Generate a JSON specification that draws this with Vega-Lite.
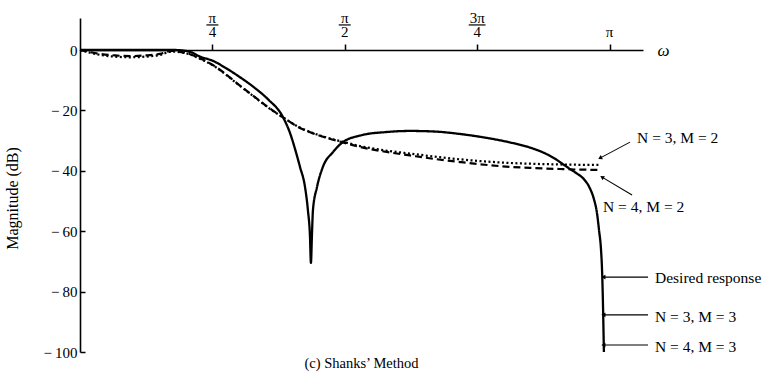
{
  "$schema": "https://vega.github.io/schema/vega-lite/v6.json",
  "width": 563,
  "height": 334,
  "autosize": "none",
  "padding": {"left": 80, "top": 18, "right": 130, "bottom": 25},
  "background": "white",
  "config": {"view": {"stroke": null}, "font": "Liberation Serif"},
  "title": {"text": "(c) Shanks’ Method", "orient": "bottom", "anchor": "middle", "fontSize": 14.5, "fontWeight": "normal", "font": "Liberation Serif", "color": "black", "offset": 4, "baseline": "middle"},
  "datasets": {
    "curves": [
      {"s": "Desired response", "w": 0, "db": 0},
      {"s": "Desired response", "w": 0.237, "db": 0},
      {"s": "Desired response", "w": 0.415, "db": 0},
      {"s": "Desired response", "w": 0.564, "db": 0},
      {"s": "Desired response", "w": 0.653, "db": -0.6},
      {"s": "Desired response", "w": 0.712, "db": -2.2},
      {"s": "Desired response", "w": 0.789, "db": -3.6},
      {"s": "Desired response", "w": 0.86, "db": -5.8},
      {"s": "Desired response", "w": 0.949, "db": -9.0},
      {"s": "Desired response", "w": 1.038, "db": -12.6},
      {"s": "Desired response", "w": 1.115, "db": -16.3},
      {"s": "Desired response", "w": 1.204, "db": -22.2},
      {"s": "Desired response", "w": 1.246, "db": -27.5},
      {"s": "Desired response", "w": 1.281, "db": -33.8},
      {"s": "Desired response", "w": 1.305, "db": -38.7},
      {"s": "Desired response", "w": 1.335, "db": -45.4},
      {"s": "Desired response", "w": 1.352, "db": -53.0},
      {"s": "Desired response", "w": 1.364, "db": -61.3},
      {"s": "Desired response", "w": 1.37, "db": -70.5},
      {"s": "Desired response", "w": 1.376, "db": -61.3},
      {"s": "Desired response", "w": 1.382, "db": -53.0},
      {"s": "Desired response", "w": 1.406, "db": -45.4},
      {"s": "Desired response", "w": 1.441, "db": -38.7},
      {"s": "Desired response", "w": 1.501, "db": -33.8},
      {"s": "Desired response", "w": 1.56, "db": -30.5},
      {"s": "Desired response", "w": 1.679, "db": -28.1},
      {"s": "Desired response", "w": 1.809, "db": -27.2},
      {"s": "Desired response", "w": 1.958, "db": -26.8},
      {"s": "Desired response", "w": 2.106, "db": -27.0},
      {"s": "Desired response", "w": 2.254, "db": -27.8},
      {"s": "Desired response", "w": 2.402, "db": -29.0},
      {"s": "Desired response", "w": 2.551, "db": -30.6},
      {"s": "Desired response", "w": 2.669, "db": -32.3},
      {"s": "Desired response", "w": 2.758, "db": -34.2},
      {"s": "Desired response", "w": 2.818, "db": -36.0},
      {"s": "Desired response", "w": 2.865, "db": -37.8},
      {"s": "Desired response", "w": 2.907, "db": -39.4},
      {"s": "Desired response", "w": 2.948, "db": -40.9},
      {"s": "Desired response", "w": 2.99, "db": -42.8},
      {"s": "Desired response", "w": 3.025, "db": -45.8},
      {"s": "Desired response", "w": 3.049, "db": -49.4},
      {"s": "Desired response", "w": 3.067, "db": -54.0},
      {"s": "Desired response", "w": 3.079, "db": -59.6},
      {"s": "Desired response", "w": 3.091, "db": -66.2},
      {"s": "Desired response", "w": 3.097, "db": -72.8},
      {"s": "Desired response", "w": 3.102, "db": -82.8},
      {"s": "Desired response", "w": 3.105, "db": -91.0},
      {"s": "Desired response", "w": 3.108, "db": -100.0},
      {"s": "N = 4, M = 2", "w": 0, "db": 0},
      {"s": "N = 4, M = 2", "w": 0.059, "db": -0.7},
      {"s": "N = 4, M = 2", "w": 0.119, "db": -1.3},
      {"s": "N = 4, M = 2", "w": 0.208, "db": -1.8},
      {"s": "N = 4, M = 2", "w": 0.297, "db": -2.0},
      {"s": "N = 4, M = 2", "w": 0.386, "db": -1.8},
      {"s": "N = 4, M = 2", "w": 0.475, "db": -1.3},
      {"s": "N = 4, M = 2", "w": 0.546, "db": -0.3},
      {"s": "N = 4, M = 2", "w": 0.593, "db": -0.6},
      {"s": "N = 4, M = 2", "w": 0.653, "db": -1.4},
      {"s": "N = 4, M = 2", "w": 0.712, "db": -2.8},
      {"s": "N = 4, M = 2", "w": 0.789, "db": -5.0},
      {"s": "N = 4, M = 2", "w": 0.86, "db": -7.8},
      {"s": "N = 4, M = 2", "w": 0.949, "db": -11.8},
      {"s": "N = 4, M = 2", "w": 1.038, "db": -15.6},
      {"s": "N = 4, M = 2", "w": 1.115, "db": -18.9},
      {"s": "N = 4, M = 2", "w": 1.204, "db": -22.3},
      {"s": "N = 4, M = 2", "w": 1.305, "db": -25.8},
      {"s": "N = 4, M = 2", "w": 1.382, "db": -27.6},
      {"s": "N = 4, M = 2", "w": 1.471, "db": -29.2},
      {"s": "N = 4, M = 2", "w": 1.56, "db": -30.6},
      {"s": "N = 4, M = 2", "w": 1.661, "db": -32.1},
      {"s": "N = 4, M = 2", "w": 1.78, "db": -33.4},
      {"s": "N = 4, M = 2", "w": 1.958, "db": -34.9},
      {"s": "N = 4, M = 2", "w": 2.106, "db": -36.1},
      {"s": "N = 4, M = 2", "w": 2.254, "db": -37.1},
      {"s": "N = 4, M = 2", "w": 2.402, "db": -38.0},
      {"s": "N = 4, M = 2", "w": 2.551, "db": -38.7},
      {"s": "N = 4, M = 2", "w": 2.699, "db": -39.1},
      {"s": "N = 4, M = 2", "w": 2.847, "db": -39.4},
      {"s": "N = 4, M = 2", "w": 2.966, "db": -39.6},
      {"s": "N = 4, M = 2", "w": 3.085, "db": -39.7},
      {"s": "N = 3, M = 2", "w": 0, "db": 0},
      {"s": "N = 3, M = 2", "w": 0.059, "db": -0.9},
      {"s": "N = 3, M = 2", "w": 0.119, "db": -1.6},
      {"s": "N = 3, M = 2", "w": 0.208, "db": -2.2},
      {"s": "N = 3, M = 2", "w": 0.297, "db": -2.4},
      {"s": "N = 3, M = 2", "w": 0.386, "db": -2.2},
      {"s": "N = 3, M = 2", "w": 0.475, "db": -1.6},
      {"s": "N = 3, M = 2", "w": 0.546, "db": -0.5},
      {"s": "N = 3, M = 2", "w": 0.593, "db": -0.7},
      {"s": "N = 3, M = 2", "w": 0.653, "db": -1.5},
      {"s": "N = 3, M = 2", "w": 0.712, "db": -2.9},
      {"s": "N = 3, M = 2", "w": 0.789, "db": -5.1},
      {"s": "N = 3, M = 2", "w": 0.86, "db": -7.9},
      {"s": "N = 3, M = 2", "w": 0.949, "db": -11.9},
      {"s": "N = 3, M = 2", "w": 1.038, "db": -15.7},
      {"s": "N = 3, M = 2", "w": 1.115, "db": -19.0},
      {"s": "N = 3, M = 2", "w": 1.204, "db": -22.3},
      {"s": "N = 3, M = 2", "w": 1.305, "db": -25.7},
      {"s": "N = 3, M = 2", "w": 1.382, "db": -27.5},
      {"s": "N = 3, M = 2", "w": 1.471, "db": -29.1},
      {"s": "N = 3, M = 2", "w": 1.56, "db": -30.4},
      {"s": "N = 3, M = 2", "w": 1.661, "db": -31.8},
      {"s": "N = 3, M = 2", "w": 1.78, "db": -33.0},
      {"s": "N = 3, M = 2", "w": 1.958, "db": -34.3},
      {"s": "N = 3, M = 2", "w": 2.106, "db": -35.3},
      {"s": "N = 3, M = 2", "w": 2.254, "db": -36.2},
      {"s": "N = 3, M = 2", "w": 2.402, "db": -36.9},
      {"s": "N = 3, M = 2", "w": 2.551, "db": -37.4},
      {"s": "N = 3, M = 2", "w": 2.699, "db": -37.7},
      {"s": "N = 3, M = 2", "w": 2.847, "db": -37.9},
      {"s": "N = 3, M = 2", "w": 2.966, "db": -38.0},
      {"s": "N = 3, M = 2", "w": 3.085, "db": -38.0}
    ],
    "ticklabels": [
      {"w": 0.7854, "db": 10.6, "t": "π"},
      {"w": 0.7854, "db": 5.8, "t": "4"},
      {"w": 1.5708, "db": 10.6, "t": "π"},
      {"w": 1.5708, "db": 5.8, "t": "2"},
      {"w": 2.3562, "db": 10.6, "t": "3π"},
      {"w": 2.3562, "db": 5.8, "t": "4"},
      {"w": 3.1416, "db": 5.8, "t": "π"}
    ],
    "bars": [
      {"w": 0.75, "w2": 0.821, "db": 8.3},
      {"w": 1.535, "w2": 1.606, "db": 8.3},
      {"w": 2.306, "w2": 2.406, "db": 8.3}
    ],
    "notes": [
      {"w": 3.305, "db": -29.1, "t": "N = 3, M = 2"},
      {"w": 3.103, "db": -52.0, "t": "N = 4, M = 2"},
      {"w": 3.411, "db": -75.5, "t": "Desired response"},
      {"w": 3.411, "db": -88.4, "t": "N = 3, M = 3"},
      {"w": 3.411, "db": -98.3, "t": "N = 4, M = 3"}
    ],
    "arrows": [
      {"w": 3.085, "db": -35.8, "w2": 3.263, "db2": -30.5, "k": "up"},
      {"w": 3.097, "db": -42.1, "w2": 3.275, "db2": -48.0, "k": "down"},
      {"w": 3.105, "db": -75.2, "w2": 3.37, "db2": -75.2, "k": "h"},
      {"w": 3.105, "db": -87.7, "w2": 3.37, "db2": -87.7, "k": "h"},
      {"w": 3.105, "db": -97.7, "w2": 3.37, "db2": -97.7, "k": "h"}
    ]
  },
  "encoding": {
    "x": {
      "field": "w", "type": "quantitative",
      "scale": {"domain": [0, 3.34], "nice": false, "zero": false},
      "axis": {
        "orient": "top", "offset": -32, "values": [0.7854, 1.5708, 2.3562, 3.1416],
        "labels": false, "grid": false, "tickSize": 6, "tickWidth": 1.5, "tickColor": "black",
        "domainColor": "black", "domainWidth": 1.6,
        "title": "ω", "titleX": 577, "titleY": 0, "titleAlign": "left", "titleBaseline": "middle",
        "titleAngle": 0, "titleFont": "Liberation Serif", "titleFontStyle": "italic", "titleFontWeight": "normal",
        "titleFontSize": 17, "titleColor": "black"
      }
    },
    "y": {
      "field": "db", "type": "quantitative",
      "scale": {"domain": [-100, 10.6], "nice": false, "zero": false},
      "axis": {
        "values": [0, -20, -40, -60, -80, -100], "grid": false,
        "tickSize": -5, "tickWidth": 1.5, "tickColor": "black", "domainColor": "black", "domainWidth": 1.6,
        "labelExpr": "datum.value < 0 ? '−\u2009' + abs(datum.value) : '0'",
        "labelFont": "Liberation Serif", "labelFontSize": 15, "labelColor": "black", "labelPadding": 8,
        "title": "Magnitude (dB)", "titleFont": "Liberation Serif", "titleFontSize": 16, "titleFontWeight": "normal",
        "titleColor": "black", "titleX": -68, "titleY": 180, "titleAngle": -90, "titleAlign": "center", "titleBaseline": "middle"
      }
    }
  },
  "layer": [
    {
      "data": {"name": "curves"},
      "mark": {"type": "line", "color": "black", "interpolate": "monotone"},
      "encoding": {
        "detail": {"field": "s", "type": "nominal"},
        "strokeDash": {"field": "s", "type": "nominal", "legend": null,
          "scale": {"domain": ["Desired response", "N = 3, M = 2", "N = 4, M = 2"], "range": [[1, 0], [2, 2.5], [7, 4]]}},
        "strokeWidth": {"field": "s", "type": "nominal", "legend": null,
          "scale": {"domain": ["Desired response", "N = 3, M = 2", "N = 4, M = 2"], "range": [2.3, 2.2, 2.6]}}
      }
    },
    {
      "data": {"name": "ticklabels"},
      "mark": {"type": "text", "font": "Liberation Serif", "fontSize": 15, "color": "black", "align": "center", "baseline": "middle"},
      "encoding": {"text": {"field": "t"}}
    },
    {
      "data": {"name": "bars"},
      "mark": {"type": "rule", "color": "black", "strokeWidth": 1.2},
      "encoding": {"x2": {"field": "w2"}}
    },
    {
      "data": {"name": "notes"},
      "mark": {"type": "text", "font": "Liberation Serif", "fontSize": 15.5, "color": "black", "align": "left", "baseline": "middle"},
      "encoding": {"text": {"field": "t"}}
    },
    {
      "data": {"name": "arrows"},
      "mark": {"type": "rule", "color": "black", "strokeWidth": 1.1},
      "encoding": {"x2": {"field": "w2"}, "y2": {"field": "db2"}}
    },
    {
      "data": {"name": "arrows"},
      "transform": [{"filter": "datum.k == 'h'"}],
      "mark": {"type": "point", "shape": "triangle-left", "filled": true, "color": "black", "size": 22, "opacity": 1},
      "encoding": {}
    },
    {
      "data": {"name": "arrows"},
      "transform": [{"filter": "datum.k == 'up'"}],
      "mark": {"type": "point", "shape": "triangle-left", "filled": true, "color": "black", "size": 22, "opacity": 1, "angle": -28},
      "encoding": {}
    },
    {
      "data": {"name": "arrows"},
      "transform": [{"filter": "datum.k == 'down'"}],
      "mark": {"type": "point", "shape": "triangle-left", "filled": true, "color": "black", "size": 22, "opacity": 1, "angle": 31},
      "encoding": {}
    }
  ]
}
